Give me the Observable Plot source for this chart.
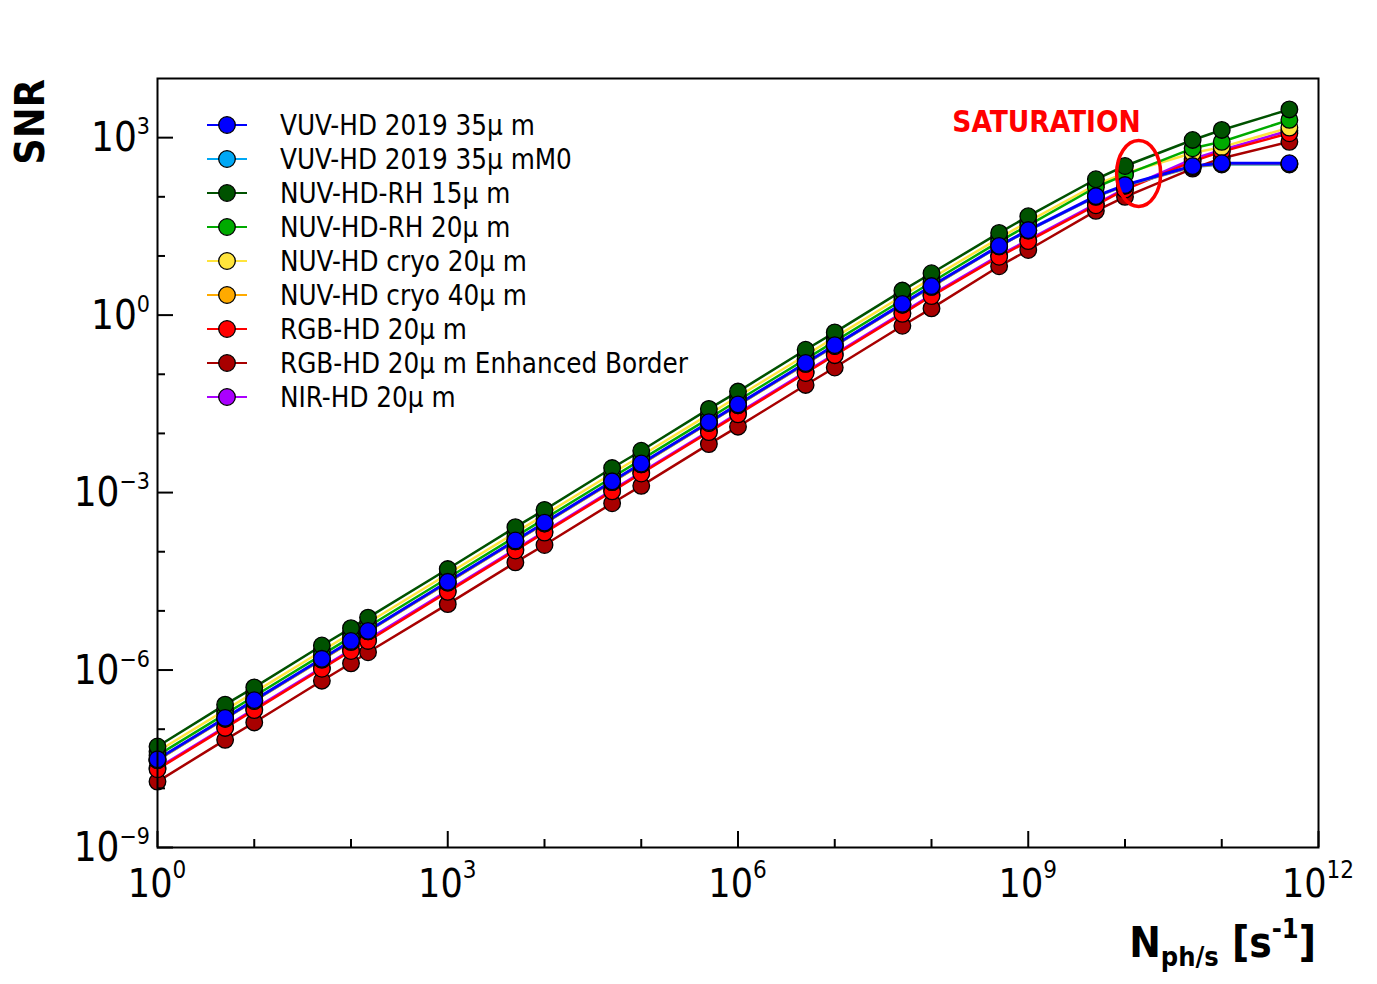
<!DOCTYPE html>
<html><head><meta charset="utf-8">
<script src="https://cdn.jsdelivr.net/npm/d3@7"></script>
<script src="https://cdn.jsdelivr.net/npm/@observablehq/plot@0.6"></script>
<style>
html,body{margin:0;padding:0;background:#fff;}
#chart svg{display:block;}
</style></head><body><div id="chart"></div>
<script>
// ---- data ----
const nph = [1,5,10,50,100,150,1e3,5e3,1e4,5e4,1e5,5e5,1e6,5e6,1e7,5e7,1e8,5e8,1e9,5e9,1e10,5e10,1e11,5e11];
const seriesNames = ["VUV-HD 2019 35µ m","VUV-HD 2019 35µ mM0","NUV-HD-RH 15µ m","NUV-HD-RH 20µ m","NUV-HD cryo 20µ m","NUV-HD cryo 40µ m","RGB-HD 20µ m","RGB-HD 20µ m Enhanced Border","NIR-HD 20µ m"];
const seriesColors = ["#0000ff","#00a8f5","#005200","#00aa00","#ffe43c","#ffaa00","#ff0000","#a80000","#aa00ff"];
const snrVUV35   = [3.1e-8,1.55e-7,3.1e-7,1.55e-6,3.1e-6,4.6e-6,3.1e-5,1.55e-4,3.1e-4,1.55e-3,3.1e-3,1.55e-2,3.1e-2,0.155,0.31,1.55,3.1,14.8,27.4,103,158,331,369,369];
const snrVUV35M0 = [3.0e-8,1.5e-7,3.0e-7,1.5e-6,3.0e-6,4.5e-6,3.0e-5,1.5e-4,3.0e-4,1.5e-3,3.0e-3,1.5e-2,3.0e-2,0.15,0.30,1.5,3.0,14.5,26.8,100,154,318,352,352];
const snrNUVRH15 = [5.1e-8,2.6e-7,5.1e-7,2.6e-6,5.1e-6,7.7e-6,5.1e-5,2.6e-4,5.1e-4,2.6e-3,5.1e-3,2.6e-2,5.1e-2,0.26,0.51,2.6,5.1,24.5,47,198,332,914,1350,3000];
const snrNUVRH20 = [3.6e-8,1.8e-7,3.6e-7,1.8e-6,3.6e-6,5.4e-6,3.6e-5,1.8e-4,3.6e-4,1.8e-3,3.6e-3,1.8e-2,3.6e-2,0.18,0.36,1.8,3.6,17.5,33,145,235,661,851,1995];
const snrCryo20  = [4.2e-8,2.1e-7,4.2e-7,2.1e-6,4.2e-6,6.3e-6,4.2e-5,2.1e-4,4.2e-4,2.1e-3,4.2e-3,2.1e-2,4.2e-2,0.21,0.42,2.1,4.2,20,38,160,250,550,692,1479];
const snrCryo40  = [3.0e-8,1.5e-7,3.0e-7,1.5e-6,3.0e-6,4.5e-6,3.0e-5,1.5e-4,3.0e-4,1.5e-3,3.0e-3,1.5e-2,3.0e-2,0.15,0.30,1.5,3.0,14.6,27,101,155,322,358,358];
const snrRGB20   = [2.1e-8,1.05e-7,2.1e-7,1.05e-6,2.1e-6,3.1e-6,2.1e-5,1.05e-4,2.1e-4,1.05e-3,2.1e-3,1.05e-2,2.1e-2,0.105,0.21,1.05,2.1,9.7,17.8,72,132,398,580,1186];
const snrRGB20EB = [1.3e-8,6.6e-8,1.3e-7,6.6e-7,1.3e-6,2.0e-6,1.3e-5,6.6e-5,1.3e-4,6.6e-4,1.3e-3,6.6e-3,1.3e-2,6.6e-2,0.13,0.66,1.3,6.7,12.6,58,100,300,450,851];
const snrNIR20   = [2.2e-8,1.1e-7,2.2e-7,1.1e-6,2.2e-6,3.3e-6,2.2e-5,1.1e-4,2.2e-4,1.1e-3,2.2e-3,1.1e-2,2.2e-2,0.11,0.22,1.1,2.2,10.2,18.7,76,138,437,617,1318];
const seriesValues = [snrVUV35,snrVUV35M0,snrNUVRH15,snrNUVRH20,snrCryo20,snrCryo40,snrRGB20,snrRGB20EB,snrNIR20];
const drawOrder = [8,7,6,1,5,4,3,2,0];

const xMajor = [1,1e3,1e6,1e9,1e12];
const xMajorExp = ["0","3","6","9","12"];
const xMinor = [1e1,1e2,1e4,1e5,1e7,1e8,1e10,1e11];
const yMajor = [1e-9,1e-6,1e-3,1,1e3];
const yMajorExp = ["−9","−6","−3","0","3"];
const yMinor = [1e-8,1e-7,1e-5,1e-4,1e-2,1e-1,1e1,1e2];

const annotation = {text:"SATURATION", x:1.66e8, y:1850, ex:1.4e10, ey:243};

// ---- layout ----
const W = 1377, H = 984, mL = 157, mR = 59, mT = 78, mB = 137;
const fw = W - mL - mR, fh = H - mT - mB;
const FONT = "'DejaVu Sans Condensed','DejaVu Sans',sans-serif";

const rows = [];
seriesNames.forEach((s,i)=>nph.forEach((n,j)=>rows.push({series:s, idx:i, n, snr:seriesValues[i][j]})));

const marks = [];
for (const i of drawOrder) {
  marks.push(Plot.line(rows.filter(d=>d.idx===i), {x:"n", y:"snr", stroke:seriesColors[i], strokeWidth: i===0 ? 3 : 2.5}));
}
for (const i of drawOrder) {
  marks.push(Plot.dot(rows.filter(d=>d.idx===i), {x:"n", y:"snr", r:8.3, fill:seriesColors[i], stroke:"#000", strokeWidth:1.3}));
}
marks.push(Plot.ruleX(xMajor, {x:d=>d, insetTop: fh-16, stroke:"#000", strokeWidth:2}));
marks.push(Plot.ruleX(xMinor, {x:d=>d, insetTop: fh-8, stroke:"#000", strokeWidth:2}));
marks.push(Plot.ruleY(yMajor, {y:d=>d, insetRight: fw-16, stroke:"#000", strokeWidth:2}));
marks.push(Plot.ruleY(yMinor, {y:d=>d, insetRight: fw-8, stroke:"#000", strokeWidth:2}));
marks.push(Plot.frame({stroke:"#000", strokeWidth:2}));

const chart = Plot.plot({
  width: W, height: H,
  marginLeft: mL, marginRight: mR, marginTop: mT, marginBottom: mB,
  x: {type:"log", domain:[1,1e12], axis:null},
  y: {type:"log", domain:[1e-9,1e4], axis:null},
  style: {background:"#fff", fontFamily: FONT},
  marks
});
document.getElementById("chart").appendChild(chart);

const svg = d3.select(chart);
const sx = chart.scale("x"), sy = chart.scale("y");
const g = svg.append("g").attr("font-family", FONT).attr("fill","#000").attr("text-anchor","start");

// x tick labels
xMajor.forEach((v,i)=>{
  const t = g.append("text").attr("x", sx.apply(v)).attr("y", mT+fh+50).attr("text-anchor","middle").attr("font-size",39);
  t.append("tspan").text("10");
  t.append("tspan").attr("font-size",24).attr("dy",-19).text(xMajorExp[i]);
});
// y tick labels
yMajor.forEach((v,i)=>{
  const t = g.append("text").attr("x", mL-7).attr("y", sy.apply(v)+14).attr("text-anchor","end").attr("font-size",40);
  t.append("tspan").text("10");
  t.append("tspan").attr("font-size",23).attr("dy",-17).text(yMajorExp[i]);
});
// axis titles
g.append("text").attr("transform",`translate(44,${mT+1}) rotate(-90)`).attr("text-anchor","end")
  .attr("font-size",41).attr("font-weight","bold").text("SNR");
{
  const t = g.append("text").attr("x", mL+fw-2).attr("y", 957).attr("text-anchor","end").attr("font-size",42).attr("font-weight","bold");
  t.append("tspan").text("N");
  t.append("tspan").attr("font-size",27).attr("dy",9).text("ph/s");
  t.append("tspan").attr("dy",-9).text(" [s");
  t.append("tspan").attr("font-size",27).attr("dy",-19).text("-1");
  t.append("tspan").attr("dy",19).text("]");
}
// annotation
g.append("text").attr("x", sx.apply(annotation.x)).attr("y", sy.apply(annotation.y)+11).attr("text-anchor","start")
  .attr("fill","#ff0000").attr("font-weight","bold").attr("font-size",29.5).text(annotation.text);
g.append("ellipse").attr("cx", sx.apply(annotation.ex)).attr("cy", sy.apply(annotation.ey))
  .attr("rx",22).attr("ry",33).attr("fill","none").attr("stroke","#ff0000").attr("stroke-width",3.5);

// legend
seriesNames.forEach((s,i)=>{
  const y = 125 + 34*i;
  g.append("line").attr("x1",207).attr("x2",247).attr("y1",y).attr("y2",y).attr("stroke",seriesColors[i]).attr("stroke-width",2);
  g.append("circle").attr("cx",227).attr("cy",y).attr("r",8.3).attr("fill",seriesColors[i]).attr("stroke","#000").attr("stroke-width",1.3);
  g.append("text").attr("x",280).attr("y",y+10).attr("text-anchor","start").attr("font-size",27.5).text(s);
});
</script></body></html>
